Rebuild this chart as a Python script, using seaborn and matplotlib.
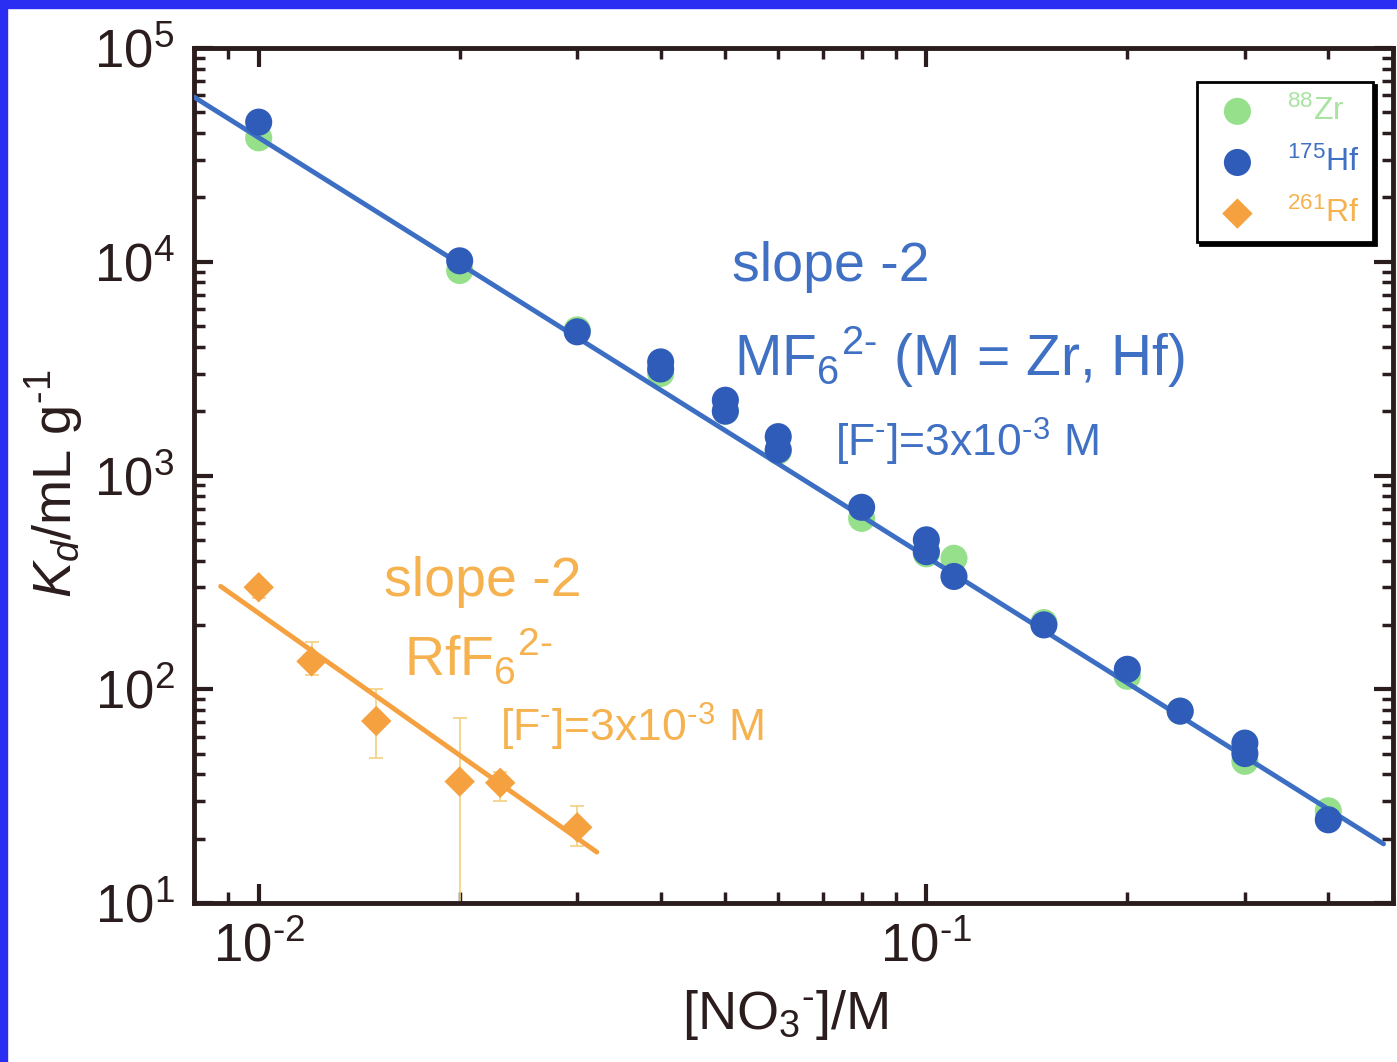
import numpy as np
import pandas as pd
import matplotlib
matplotlib.use("Agg")
import matplotlib.pyplot as plt
from matplotlib.patches import Rectangle
from matplotlib.ticker import FuncFormatter
import seaborn as sns

# ---------------- data ----------------
zr_nitrate = [0.01, 0.02, 0.03, 0.04, 0.05, 0.06, 0.08, 0.1, 0.11, 0.15, 0.2, 0.24, 0.3, 0.4]
zr_kd = [38000, 9100, 4800, 3000, 2000, 1300, 630, 430, 410, 205, 115, 79, 46, 27]

hf_nitrate = [0.01, 0.02, 0.03, 0.04, 0.04, 0.05, 0.05, 0.06, 0.06, 0.08, 0.1, 0.1, 0.11,
              0.15, 0.2, 0.24, 0.3, 0.3, 0.4]
hf_kd = [45000, 10100, 4700, 3400, 3150, 2250, 2000, 1520, 1320, 710, 500, 440, 337,
         200, 124, 79, 56, 50, 24.5]

rf_nitrate = [0.01, 0.012, 0.015, 0.02, 0.023, 0.03]
rf_kd = [300, 135, 71, 37, 36.5, 22.6]
rf_kd_upper = [325, 167, 100, 73, 41, 28.4]
rf_kd_lower = [268, 117, 47.6, 5, 30, 18.5]

# slope -2 lines (end points)
zrhf_line_nitrate = [0.008, 0.484]
zrhf_line_kd = [59000, 18.9]
rf_line_nitrate = [0.00877, 0.0321]
rf_line_kd = [303, 17.3]

legend_labels = ["$^{88}$Zr", "$^{175}$Hf", "$^{261}$Rf"]

# ---------------- style ----------------
sns.set_style("ticks")
plt.rcParams["font.family"] = ["Liberation Sans", "DejaVu Sans"]
plt.rcParams["mathtext.fontset"] = "custom"
plt.rcParams["mathtext.rm"] = "Liberation Sans"
plt.rcParams["mathtext.it"] = "Liberation Sans:italic"
plt.rcParams["mathtext.default"] = "regular"

INK = "#2b1d1d"
GREEN = "#96e08c"
BLUE_PT = "#2f5cb8"
BLUE_LN = "#3c6ec3"
BLUE_TX = "#3f70c4"
ORANGE = "#f5a140"
ORANGE_TX = "#f5b24e"
ERR = "#f2cf80"
HY = r"\text{-}"

fig = plt.figure(figsize=(13.97, 10.62), dpi=100)
ax = fig.add_axes([194 / 1397, 1 - 903 / 1062, (1393 - 194) / 1397, (903 - 48) / 1062])

# blue frame of the slide
fig.patches.append(Rectangle((0, 1 - 8 / 1062), 1, 8 / 1062, transform=fig.transFigure,
                             color="#2a2ef2", zorder=0))
fig.patches.append(Rectangle((0, 0), 7 / 1397, 1, transform=fig.transFigure,
                             color="#2a2ef2", zorder=0))

ax.set_xscale("log")
ax.set_yscale("log")

zr_df = pd.DataFrame({"nitrate": zr_nitrate, "kd": zr_kd})
hf_df = pd.DataFrame({"nitrate": hf_nitrate, "kd": hf_kd})
rf_df = pd.DataFrame({"nitrate": rf_nitrate, "kd": rf_kd})
l1 = pd.DataFrame({"nitrate": zrhf_line_nitrate, "kd": zrhf_line_kd})
l2 = pd.DataFrame({"nitrate": rf_line_nitrate, "kd": rf_line_kd})

# error bars for Rf
yerr = np.array([np.array(rf_kd) - np.array(rf_kd_lower), np.array(rf_kd_upper) - np.array(rf_kd)])
ax.errorbar(rf_nitrate, rf_kd, yerr=yerr, fmt="none", ecolor=ERR, elinewidth=1.2,
            capsize=5, capthick=1.2, zorder=1)

sns.scatterplot(data=zr_df, x="nitrate", y="kd", ax=ax, color=GREEN, s=380,
                edgecolor="none", marker="o", zorder=2, label=legend_labels[0])
sns.lineplot(data=l1, x="nitrate", y="kd", ax=ax, color=BLUE_LN, lw=3.5, zorder=3,
             legend=False)
sns.scatterplot(data=hf_df, x="nitrate", y="kd", ax=ax, color=BLUE_PT, s=380,
                edgecolor="none", marker="o", zorder=4, label=legend_labels[1])
sns.scatterplot(data=rf_df, x="nitrate", y="kd", ax=ax, color=ORANGE, s=240,
                edgecolor="none", marker="D", zorder=4, label=legend_labels[2])
sns.lineplot(data=l2, x="nitrate", y="kd", ax=ax, color=ORANGE, lw=3.5, zorder=3,
             legend=False)

ax.set_xlim(0.008, 0.5)
ax.set_ylim(10, 1e5)


def pow10(v, pos):
    e = int(round(np.log10(v)))
    if e < 0:
        return "$10^{" + HY + str(-e) + "}$"
    return "$10^{" + str(e) + "}$"


ax.xaxis.set_major_formatter(FuncFormatter(pow10))
ax.yaxis.set_major_formatter(FuncFormatter(pow10))

for s in ax.spines.values():
    s.set_color(INK)
    s.set_linewidth(3.5)
ax.tick_params(which="both", direction="in", top=True, right=True, colors=INK)
ax.tick_params(which="major", length=14, width=3, labelsize=38, pad=14)
ax.tick_params(which="minor", length=8, width=2.5)

ax.set_xlabel("[NO$_3$$^{" + HY + "}$]/M", fontsize=39, color=INK)
ax.set_ylabel("$\\mathit{K_d}$/mL g$^{" + HY + "1}$", fontsize=39, color=INK)
ax.xaxis.set_label_coords(0.493, -0.100)
ax.yaxis.label.set_va("center")
ax.yaxis.set_label_coords(-0.116, 0.49)

# annotations
ax.text(0.0512, 9400, "slope -2", color=BLUE_TX, fontsize=40, ha="left", va="center")
ax.text(0.0516, 3560, "MF$_6$$^{2" + HY + "}$ (M = Zr, Hf)", color=BLUE_TX, fontsize=41,
        ha="left", va="center")
ax.text(0.0731, 1440, "[F$^{" + HY + "}$]=3x10$^{" + HY + "3}$ M", color=BLUE_TX, fontsize=32,
        ha="left", va="center")
ax.text(0.01538, 316, "slope -2", color=ORANGE_TX, fontsize=40, ha="left", va="center")
ax.text(0.01648, 141, "RfF$_6$$^{2" + HY + "}$", color=ORANGE_TX, fontsize=40,
        ha="left", va="center")
ax.text(0.0230, 66.4, "[F$^{" + HY + "}$]=3x10$^{" + HY + "3}$ M", color=ORANGE_TX, fontsize=32,
        ha="left", va="center")

leg = ax.legend(loc="upper right", bbox_to_anchor=(0.9833, 0.9602), borderaxespad=0,
                fontsize=23, frameon=True, fancybox=False, shadow={"color": "black", "alpha": 1},
                edgecolor="black", markerscale=1.0, handletextpad=0.7, labelspacing=0.62,
                borderpad=0.42, handlelength=1.7)
leg.get_frame().set_linewidth(2)
for txt, c in zip(leg.get_texts(), ["#a8e4a0", BLUE_TX, ORANGE_TX]):
    txt.set_color(c)

fig.savefig("out.png", dpi=100)
